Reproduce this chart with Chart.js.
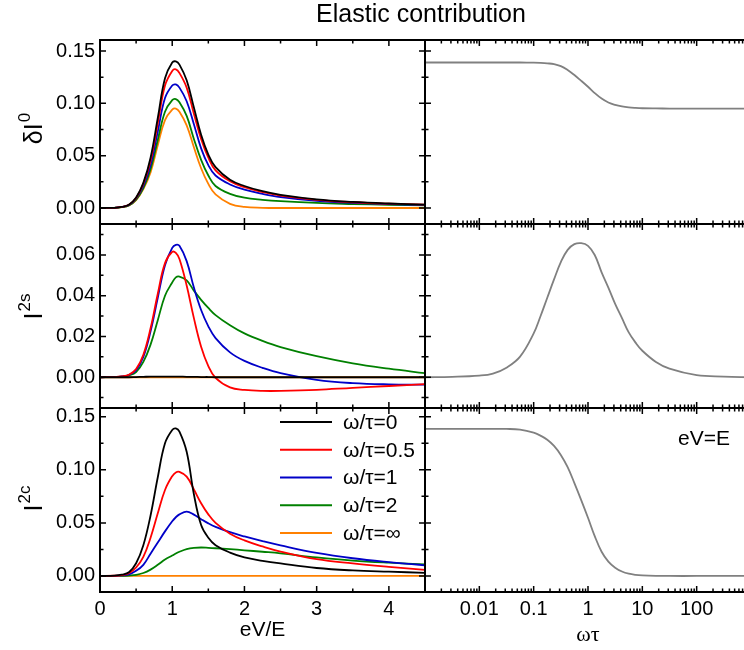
<!DOCTYPE html>
<html>
<head>
<meta charset="utf-8">
<script src="https://cdn.jsdelivr.net/npm/chart.js@4.4.1/dist/chart.umd.min.js"></script>
<style>
  html, body { margin: 0; padding: 0; background: #fff; width: 744px; height: 650px; overflow: hidden; }
  canvas { position: absolute; left: 0; top: 0; }
</style>
</head>
<body>
<canvas id="dI0" width="760" height="650"></canvas>
<canvas id="I2s" width="760" height="650"></canvas>
<canvas id="I2c" width="760" height="650"></canvas>
<canvas id="dI0wt" width="760" height="650"></canvas>
<canvas id="I2swt" width="760" height="650"></canvas>
<canvas id="I2cwt" width="760" height="650"></canvas>
<script>
// eV/E sample points (left column)
const eV = [0, 0.2, 0.3, 0.4, 0.5, 0.6, 0.7, 0.8, 0.9, 1.0, 1.05, 1.1, 1.2, 1.3, 1.4, 1.5, 1.6, 1.8, 2.0, 2.25, 2.5, 3.0, 3.5, 4.0, 4.5];

// delta I^0
const dI0_w0  = [0, 0.0002, 0.001, 0.003, 0.010, 0.024, 0.048, 0.086, 0.124, 0.139, 0.140, 0.137, 0.122, 0.096, 0.070, 0.051, 0.039, 0.027, 0.021, 0.016, 0.0125, 0.0082, 0.0058, 0.0043, 0.0033];
const dI0_w05 = [0, 0.0002, 0.001, 0.003, 0.0095, 0.023, 0.045, 0.081, 0.117, 0.131, 0.1325, 0.129, 0.115, 0.090, 0.066, 0.048, 0.036, 0.0255, 0.0198, 0.0152, 0.0118, 0.0078, 0.0055, 0.0041, 0.0032];
const dI0_w1  = [0, 0.0002, 0.001, 0.0028, 0.009, 0.021, 0.041, 0.073, 0.105, 0.117, 0.118, 0.115, 0.102, 0.080, 0.057, 0.041, 0.031, 0.0225, 0.0175, 0.0135, 0.0105, 0.0069, 0.0049, 0.0037, 0.0029];
const dI0_w2  = [0, 0.0002, 0.0008, 0.0025, 0.008, 0.019, 0.037, 0.065, 0.092, 0.103, 0.104, 0.101, 0.088, 0.066, 0.046, 0.031, 0.021, 0.0135, 0.0098, 0.0078, 0.0065, 0.0048, 0.0038, 0.003, 0.0024];
const dI0_inf = [0, 0.0002, 0.0008, 0.0024, 0.0075, 0.018, 0.034, 0.060, 0.084, 0.094, 0.095, 0.092, 0.079, 0.058, 0.038, 0.023, 0.013, 0.004, 0.001, 0.0002, 0, 0, 0, 0, 0];

// I^2s
const s_w0  = [0, 0, 0, 0, 0.0001, 0.0002, 0.0003, 0.0003, 0.0003, 0.0003, 0.0003, 0.0003, 0.0002, 0.0002, 0.0001, 0.0001, 0, 0, 0, 0, 0, 0, 0, 0, 0];
const s_w05 = [0, 0.0001, 0.0004, 0.0012, 0.004, 0.011, 0.024, 0.041, 0.056, 0.0615, 0.061, 0.058, 0.045, 0.029, 0.015, 0.0055, -0.0003, -0.005, -0.0062, -0.0067, -0.0067, -0.0062, -0.0052, -0.0043, -0.0034];
const s_w1  = [0, 0.0001, 0.0004, 0.0011, 0.0035, 0.010, 0.0225, 0.039, 0.055, 0.0635, 0.065, 0.0645, 0.057, 0.044, 0.033, 0.025, 0.0192, 0.0122, 0.0080, 0.0046, 0.0020, -0.0013, -0.0029, -0.0035, -0.0036];
const s_w2  = [0, 0.0001, 0.0003, 0.0009, 0.0025, 0.0075, 0.016, 0.028, 0.040, 0.0465, 0.049, 0.0494, 0.0475, 0.0425, 0.038, 0.034, 0.0305, 0.0255, 0.0215, 0.0178, 0.0148, 0.0103, 0.0068, 0.0042, 0.002];
const s_inf = [0, 0, 0, 0, 0, 0, 0, 0, 0, 0, 0, 0, 0, 0, 0, 0, 0, 0, 0, 0, 0, 0, 0, 0, 0];

// I^2c
const c_w0  = [0, 0.0003, 0.0012, 0.0035, 0.012, 0.029, 0.057, 0.093, 0.125, 0.1375, 0.139, 0.136, 0.117, 0.077, 0.048, 0.036, 0.029, 0.022, 0.0175, 0.0143, 0.0118, 0.0075, 0.0052, 0.004, 0.003];
const c_w05 = [0, 0.0002, 0.0008, 0.0025, 0.008, 0.018, 0.036, 0.059, 0.081, 0.094, 0.0975, 0.098, 0.0935, 0.0815, 0.0685, 0.058, 0.050, 0.0398, 0.0335, 0.0278, 0.023, 0.0158, 0.0118, 0.0086, 0.0058];
const c_w1  = [0, 0.0001, 0.0005, 0.0015, 0.0048, 0.0105, 0.021, 0.0315, 0.042, 0.0515, 0.0553, 0.058, 0.0606, 0.0578, 0.0535, 0.0495, 0.0462, 0.0412, 0.0372, 0.0328, 0.0288, 0.0218, 0.0167, 0.0130, 0.0100];
const c_w2  = [0, 0, 0.0001, 0.0004, 0.001, 0.0028, 0.006, 0.0105, 0.0155, 0.0192, 0.0211, 0.0228, 0.0253, 0.0265, 0.0268, 0.0265, 0.0261, 0.0252, 0.0242, 0.0228, 0.0213, 0.0175, 0.0145, 0.0125, 0.011];
const c_inf = [0, 0, 0, 0, 0, 0, 0, 0, 0, 0, 0, 0, 0, 0, 0, 0, 0, 0, 0, 0, 0, 0, 0, 0, 0];

// omega*tau sample points (right column, eV=E)
const wt = [0.001, 0.00316, 0.01, 0.0178, 0.0316, 0.0562, 0.1, 0.133, 0.178, 0.237, 0.316, 0.422, 0.562, 0.75, 1, 1.33, 1.78, 2.37, 3.16, 4.22, 5.62, 7.5, 10, 17.8, 31.6, 100, 316, 1000];
const dI0_wt = [0.139, 0.139, 0.139, 0.139, 0.139, 0.139, 0.1388, 0.1386, 0.1382, 0.1375, 0.1355, 0.1318, 0.127, 0.1215, 0.1158, 0.1098, 0.1045, 0.1008, 0.0985, 0.097, 0.0961, 0.0956, 0.0953, 0.0951, 0.095, 0.095, 0.095, 0.095];
const s_wt   = [0, 0.0002, 0.0008, 0.0018, 0.0047, 0.0101, 0.0215, 0.0298, 0.039, 0.048, 0.0565, 0.0625, 0.0653, 0.0658, 0.0645, 0.060, 0.0515, 0.044, 0.036, 0.029, 0.022, 0.017, 0.013, 0.0075, 0.0042, 0.001, 0.0003, 0];
const c_wt   = [0.1385, 0.1385, 0.1385, 0.1385, 0.1385, 0.1378, 0.135, 0.1322, 0.1283, 0.1225, 0.114, 0.1025, 0.0875, 0.0715, 0.0548, 0.0375, 0.0228, 0.0135, 0.0078, 0.0042, 0.0021, 0.001, 0.0005, 0.0001, 0, 0, 0, 0];

const labels = ['ω/τ=0', 'ω/τ=0.5', 'ω/τ=1', 'ω/τ=2', 'ω/τ=∞'];
const colors = ['#000000', '#ff0000', '#0000c8', '#008000', '#ff8000'];

// ticks
const eVTicks = [0, 1, 2, 3, 4];
const eVMinor = [0.5, 1.5, 2.5, 3.5];
const wtTicks = [0.01, 0.1, 1, 10, 100];
const wtMajor = [0.001, 0.01, 0.1, 1, 10, 100, 1000];
const wtMinor = [];
[0.001, 0.01, 0.1, 1, 10, 100].forEach(d => { for (let k = 2; k <= 9; k++) wtMinor.push(d * k); });
const bigTicks = [0, 0.05, 0.10, 0.15];
const bigMinor = [0.025, 0.075, 0.125];
const smallTicks = [0, 0.02, 0.04, 0.06];
const smallMinor = [-0.01, 0.01, 0.03, 0.05, 0.07];

const sans = "'Liberation Sans', Arial, sans-serif";
const serif = "'Liberation Serif', 'Times New Roman', serif";

// frame + inward tick marks on all four sides
const frame = {
  id: 'frame',
  afterDraw(chart, args, o) {
    const { ctx, chartArea: a } = chart;
    const x = chart.scales.x, y = chart.scales.y;
    ctx.save();
    ctx.strokeStyle = '#000';
    ctx.lineWidth = 1.5;
    const xs = (vals, len) => vals.forEach(v => {
      const p = x.getPixelForValue(v);
      if (p < a.left - 0.5 || p > a.right + 0.5) return;
      ctx.beginPath();
      ctx.moveTo(p, a.bottom); ctx.lineTo(p, a.bottom - len);
      ctx.moveTo(p, a.top); ctx.lineTo(p, a.top + len);
      ctx.stroke();
    });
    const ys = (vals, len) => vals.forEach(v => {
      const p = y.getPixelForValue(v);
      if (p < a.top - 0.5 || p > a.bottom + 0.5) return;
      ctx.beginPath();
      ctx.moveTo(a.left, p); ctx.lineTo(a.left + len, p);
      ctx.moveTo(a.right, p); ctx.lineTo(a.right - len, p);
      ctx.stroke();
    });
    xs(o.xMajor, 6); xs(o.xMinor, 3.5);
    ys(o.yMajor, 6); ys(o.yMinor, 3.5);
    ctx.lineWidth = 2;
    ctx.strokeRect(a.left, a.top, a.right - a.left, a.bottom - a.top);
    ctx.restore();
  }
};

// free text (with optional superscript, optional rotation)
const marks = {
  id: 'marks',
  afterDraw(chart, args, o) {
    const ctx = chart.ctx;
    (o.items || []).forEach(t => {
      ctx.save();
      ctx.translate(t.x, t.y);
      ctx.rotate((t.rotate || 0) * Math.PI / 180);
      ctx.fillStyle = '#000';
      ctx.textBaseline = 'alphabetic';
      ctx.textAlign = 'left';
      ctx.font = t.font;
      const w1 = ctx.measureText(t.text).width;
      let w2 = 0;
      if (t.sup) { ctx.font = t.supFont; w2 = ctx.measureText(t.sup).width; }
      const x0 = t.center ? -(w1 + w2) / 2 : 0;
      ctx.font = t.font;
      ctx.fillText(t.text, x0, 0);
      if (t.sup) { ctx.font = t.supFont; ctx.fillText(t.sup, x0 + w1 + 1, -t.rise); }
      ctx.restore();
    });
  }
};

// legend drawn inside the bottom-left panel
const key = {
  id: 'key',
  afterDraw(chart, args, o) {
    if (!o.show) return;
    const ctx = chart.ctx;
    ctx.save();
    ctx.font = '21px ' + sans;
    ctx.textBaseline = 'middle';
    ctx.fillStyle = '#000';
    chart.data.datasets.forEach((d, i) => {
      const yy = o.y + i * o.gap;
      ctx.strokeStyle = d.borderColor;
      ctx.lineWidth = 1.8;
      ctx.beginPath();
      ctx.moveTo(o.x, yy); ctx.lineTo(o.x + 52, yy);
      ctx.stroke();
      ctx.fillText(d.label, o.x + 63, yy + 1);
    });
    ctx.restore();
  }
};

function lines(xs, ys, cols, names) {
  return ys.map((arr, i) => ({
    label: names ? names[i] : '',
    data: xs.map((x, j) => ({ x: x, y: arr[j] })),
    borderColor: cols[i],
    borderWidth: 1.8,
    pointRadius: 0,
    tension: 0.4,
    fill: false
  }));
}

// rows: [top, bottom] in page pixels
const rows = [[40, 224], [224, 408], [408, 592]];

function panel(id, p) {
  const left = p.col === 0;
  const [top, bottom] = rows[p.row];
  const last = p.row === 2;
  new Chart(document.getElementById(id), {
    type: 'line',
    data: { datasets: p.datasets },
    options: {
      responsive: false,
      animation: false,
      devicePixelRatio: 1,
      events: [],
      layout: {
        autoPadding: false,
        padding: {
          left: left ? 0 : 425,
          right: left ? 760 - 425 : 760 - 751,
          top: top,
          bottom: last ? 0 : 650 - bottom
        }
      },
      scales: {
        x: left ? {
          type: 'linear', min: 0, max: 4.5, display: last,
          afterBuildTicks: s => { s.ticks = eVTicks.map(v => ({ value: v })); },
          afterFit: s => { if (last) s.height = 58; },
          grid: { display: false, drawTicks: false },
          border: { display: false },
          ticks: { color: '#000', font: { family: sans, size: 20 }, padding: 5, maxRotation: 0, autoSkip: false },
          title: { display: true, text: 'eV/E', color: '#000', font: { family: sans, size: 21 }, padding: { top: 0, bottom: 7 } }
        } : {
          type: 'logarithmic', min: 0.001, max: 1000, display: last,
          afterBuildTicks: s => { s.ticks = wtTicks.map(v => ({ value: v })); },
          afterFit: s => { if (last) s.height = 58; },
          grid: { display: false, drawTicks: false },
          border: { display: false },
          ticks: { color: '#000', font: { family: sans, size: 20 }, padding: 5, maxRotation: 0, autoSkip: false,
                   callback: v => String(v) },
          title: { display: true, text: 'ωτ', color: '#000', font: { family: serif, size: 22 }, padding: { top: 0, bottom: 2 } }
        },
        y: {
          type: 'linear', min: p.ymin, max: p.ymax, display: left,
          afterBuildTicks: s => { s.ticks = p.yTicks.map(v => ({ value: v })); },
          afterFit: s => { if (left) s.width = 100; },
          grid: { display: false, drawTicks: false },
          border: { display: false },
          ticks: { color: '#000', font: { family: sans, size: 20 }, padding: 5, callback: v => v.toFixed(2) }
        }
      },
      plugins: {
        legend: { display: false },
        tooltip: { enabled: false },
        frame: {
          xMajor: left ? eVTicks : wtMajor,
          xMinor: left ? eVMinor : wtMinor,
          yMajor: p.yTicks,
          yMinor: p.yMinor
        },
        marks: { items: p.texts || [] },
        key: p.key || { show: false }
      }
    },
    plugins: [frame, marks, key]
  });
}

const yLabelFont = '25px ' + sans;
const supFont = '17px ' + sans;

panel('dI0', {
  col: 0, row: 0, ymin: -0.0153, ymax: 0.1605, yTicks: bigTicks, yMinor: bigMinor,
  datasets: lines(eV, [dI0_w0, dI0_w05, dI0_w1, dI0_w2, dI0_inf], colors, labels),
  texts: [
    { text: 'Elastic contribution', x: 421, y: 22, font: '25px ' + sans, center: true },
    { text: 'δI', sup: '0', x: 42, y: 129, rotate: -90, font: yLabelFont, supFont: supFont, rise: 12, center: true }
  ]
});
panel('I2s', {
  col: 0, row: 1, ymin: -0.0151, ymax: 0.0752, yTicks: smallTicks, yMinor: smallMinor,
  datasets: lines(eV, [s_w0, s_w05, s_w1, s_w2, s_inf], colors, labels),
  texts: [
    { text: 'I', sup: '2s', x: 42, y: 307, rotate: -90, font: yLabelFont, supFont: supFont, rise: 12, center: true }
  ]
});
panel('I2c', {
  col: 0, row: 2, ymin: -0.0151, ymax: 0.1582, yTicks: bigTicks, yMinor: bigMinor,
  datasets: lines(eV, [c_w0, c_w05, c_w1, c_w2, c_inf], colors, labels),
  texts: [
    { text: 'I', sup: '2c', x: 42, y: 499, rotate: -90, font: yLabelFont, supFont: supFont, rise: 12, center: true }
  ],
  key: { show: true, x: 280, y: 422, gap: 27.75 }
});
panel('dI0wt', {
  col: 1, row: 0, ymin: -0.0153, ymax: 0.1605, yTicks: bigTicks, yMinor: bigMinor,
  datasets: lines(wt, [dI0_wt], ['#808080'])
});
panel('I2swt', {
  col: 1, row: 1, ymin: -0.0151, ymax: 0.0752, yTicks: smallTicks, yMinor: smallMinor,
  datasets: lines(wt, [s_wt], ['#808080'])
});
panel('I2cwt', {
  col: 1, row: 2, ymin: -0.0151, ymax: 0.1582, yTicks: bigTicks, yMinor: bigMinor,
  datasets: lines(wt, [c_wt], ['#808080']),
  texts: [
    { text: 'eV=E', x: 678, y: 445, font: '21px ' + sans }
  ]
});
</script>
</body>
</html>
